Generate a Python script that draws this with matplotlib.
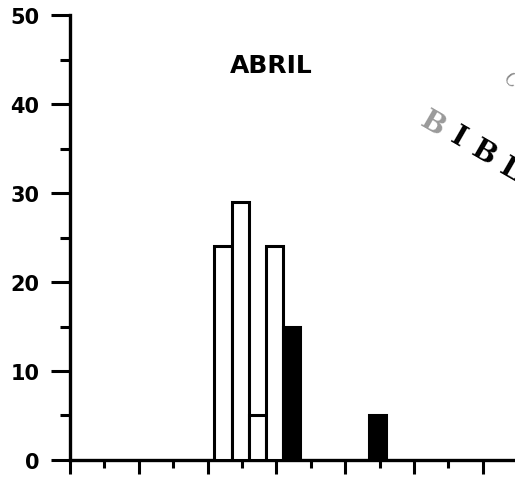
import matplotlib
matplotlib.use("Agg")
import matplotlib.pyplot as plt
from matplotlib.ticker import MultipleLocator

# bar data: left edge of each class and its count
open_left = [4.2, 4.7, 5.2, 5.7]
open_vals = [24, 29, 5, 24]
solid_left = [6.2, 8.7]
solid_vals = [15, 5]
bar_w = 0.5

title = "ABRIL"
y_ticks = [0, 10, 20, 30, 40, 50]

fig = plt.figure(figsize=(5.15, 4.81), dpi=100)
ax = fig.add_axes([0.1359, 0.0416, 0.8816, 0.925])

ax.bar(open_left, open_vals, width=bar_w, align="edge",
       facecolor="white", edgecolor="black", linewidth=2.2, zorder=3)
ax.bar(solid_left, solid_vals, width=bar_w, align="edge",
       facecolor="black", edgecolor="black", linewidth=2.2, zorder=3)

ax.set_xlim(0, 13.2)
ax.set_ylim(0, 50)

for s in ["top", "right"]:
    ax.spines[s].set_visible(False)
for s in ["left", "bottom"]:
    ax.spines[s].set_linewidth(2.4)

ax.set_yticks(y_ticks)
ax.set_yticklabels([str(v) for v in y_ticks], fontsize=15, fontweight="bold",
                   family="DejaVu Sans")
ax.yaxis.set_minor_locator(MultipleLocator(5))
ax.xaxis.set_major_locator(MultipleLocator(2))
ax.xaxis.set_minor_locator(MultipleLocator(1))
ax.set_xticklabels([])

ax.tick_params(axis="y", which="major", length=14, width=2.2, pad=8)
ax.tick_params(axis="y", which="minor", length=7, width=2.2)
ax.tick_params(axis="x", which="major", length=10, width=2.2)
ax.tick_params(axis="x", which="minor", length=6, width=2.2)

fig.text(0.527, 0.863, title, ha="center", va="center", fontsize=18,
         fontweight="bold", family="DejaVu Sans")

# library stamp partly on the page edge
stamp = [("B", 433, 124, 0.4), ("I", 458, 138, 1.0),
         ("B", 484, 153, 1.0), ("L", 510, 170, 1.0)]
for ch, px, py, a in stamp:
    fig.text(px / 515, 1 - py / 481, ch, ha="center", va="center",
             fontsize=20, fontweight="bold", family="DejaVu Serif",
             rotation=-30, color="black", alpha=a)
fig.text(510 / 515, 1 - 81 / 481, "C", ha="center", va="center",
         fontsize=13, family="DejaVu Serif", rotation=-50,
         color="black", alpha=0.45)

fig.savefig("out.png", dpi=100, facecolor="white")
